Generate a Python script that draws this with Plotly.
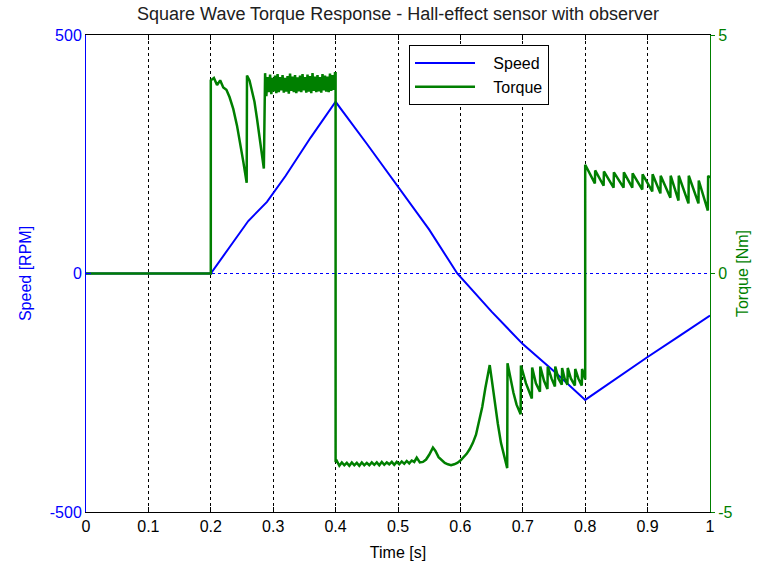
import plotly.graph_objects as go

# ---------------- data ----------------
speed_time = [0.0, 0.2, 0.23, 0.26, 0.29, 0.32, 0.36, 0.4, 0.45, 0.5, 0.55, 0.595,
              0.63, 0.65, 0.7, 0.75, 0.8, 0.85, 0.9, 0.95, 1.0]
speed_rpm = [0, 0, 55, 110, 150, 205, 285, 360, 272, 183, 92, 0,
             -52, -80, -148, -205, -265, -220, -175, -132, -88]

# torque: start-up and first two dips
torque_start_time = [0.0, 0.2, 0.2, 0.205, 0.21, 0.215, 0.22, 0.225, 0.23, 0.236, 0.242,
                     0.247, 0.252, 0.2575, 0.258, 0.262, 0.266, 0.27, 0.274, 0.278,
                     0.282, 0.285]
torque_start_nm = [0.0, 0.0, 4.05, 4.1, 3.95, 4.05, 3.9, 3.85, 3.7, 3.45, 3.1,
                   2.75, 2.35, 1.9, 4.15, 4.05, 3.85, 3.6, 3.25, 2.85,
                   2.45, 2.2]

# torque: dense ripple band at +4 Nm
torque_pos_ripple_time = [
    0.287, 0.289, 0.291, 0.293, 0.295, 0.297, 0.299, 0.301, 0.303, 0.305,
    0.307, 0.309, 0.311, 0.313, 0.315, 0.317, 0.319, 0.321, 0.323, 0.325,
    0.327, 0.329, 0.331, 0.333, 0.335, 0.337, 0.339, 0.341, 0.343, 0.345,
    0.347, 0.349, 0.351, 0.353, 0.355, 0.357, 0.359, 0.361, 0.363, 0.365,
    0.367, 0.369, 0.371, 0.373, 0.375, 0.377, 0.379, 0.381, 0.383, 0.385,
    0.387, 0.389, 0.391, 0.393, 0.395, 0.397, 0.399, 0.4]
torque_pos_ripple_nm = [
    4.2, 3.72, 4.12, 3.8, 4.17, 3.76, 4.1, 3.82, 4.15, 3.78,
    4.18, 3.8, 4.12, 3.84, 4.16, 3.79, 4.1, 3.81, 4.14, 3.77,
    4.19, 3.83, 4.13, 3.8, 4.16, 3.78, 4.11, 3.82, 4.15, 3.8,
    4.18, 3.84, 4.12, 3.79, 4.17, 3.81, 4.14, 3.78, 4.2, 3.83,
    4.13, 3.8, 4.16, 3.82, 4.12, 3.79, 4.18, 3.84, 4.15, 3.81,
    4.13, 3.8, 4.19, 3.83, 4.16, 3.85, 4.2, 4.2]

# torque: -4 Nm plateau, bumps and the large spikes
torque_neg_time = [
    0.4, 0.402, 0.406, 0.41, 0.414, 0.418, 0.422, 0.426, 0.43, 0.434, 0.438,
    0.442, 0.446, 0.45, 0.454, 0.458, 0.462, 0.466, 0.47, 0.474, 0.478,
    0.482, 0.486, 0.49, 0.494, 0.498, 0.502, 0.506, 0.51, 0.514, 0.518,
    0.522, 0.526, 0.53, 0.535, 0.54, 0.545, 0.55, 0.556, 0.56, 0.565,
    0.57, 0.575, 0.58, 0.585, 0.59, 0.595, 0.6, 0.605, 0.61, 0.615,
    0.62, 0.625, 0.63, 0.635, 0.64, 0.645, 0.647, 0.65, 0.655, 0.66,
    0.665, 0.67, 0.675]
torque_neg_nm = [
    -3.95, -3.93, -4.03, -3.96, -4.02, -3.97, -4.03, -3.96, -4.02, -3.97, -4.03,
    -3.96, -4.02, -3.97, -4.02, -3.96, -4.01, -3.96, -4.02, -3.95, -4.01,
    -3.96, -4.0, -3.95, -4.01, -3.95, -4.0, -3.94, -3.99, -3.93, -3.98,
    -3.92, -3.95, -3.86, -3.96, -3.95, -3.9, -3.8, -3.65, -3.72, -3.85,
    -3.92, -3.97, -4.0, -4.02, -4.0, -3.97, -3.92, -3.85, -3.78, -3.68,
    -3.55, -3.38, -3.1, -2.8, -2.4, -2.05, -1.92, -2.2, -2.7, -3.15,
    -3.55, -3.85, -4.08]

# torque: sawtooth ripple around -2 Nm
torque_neg_ripple_time = [
    0.6755, 0.68, 0.685, 0.69, 0.6965,
    0.697, 0.705, 0.7145,
    0.715, 0.721, 0.7275,
    0.728, 0.734, 0.7395,
    0.740, 0.746, 0.7515,
    0.752, 0.757, 0.7625,
    0.763, 0.767, 0.7715,
    0.772, 0.777, 0.7835,
    0.784, 0.789, 0.7945,
    0.795, 0.7995, 0.8]
torque_neg_ripple_nm = [
    -1.88, -2.2, -2.5, -2.75, -2.95,
    -1.93, -2.3, -2.62,
    -1.97, -2.3, -2.48,
    -1.95, -2.25, -2.42,
    -1.95, -2.2, -2.37,
    -1.95, -2.2, -2.33,
    -1.98, -2.2, -2.33,
    -1.98, -2.2, -2.35,
    -2.0, -2.2, -2.35,
    -2.0, -2.2, -2.22]

# torque: sawtooth ripple around +2 Nm
torque_end_time = [
    0.8, 0.8155, 0.816, 0.8295, 0.830, 0.8455, 0.846, 0.8615, 0.862, 0.8755,
    0.876, 0.8915, 0.892, 0.9075, 0.908, 0.9205, 0.921, 0.9365, 0.937, 0.9495,
    0.950, 0.9655, 0.966, 0.9815, 0.982, 0.9965, 0.997, 1.0]
torque_end_nm = [
    2.28, 1.89, 2.16, 1.84, 2.14, 1.8, 2.12, 1.8, 2.12, 1.8,
    2.1, 1.76, 2.08, 1.72, 2.08, 1.68, 2.05, 1.59, 2.05, 1.53,
    2.05, 1.47, 2.05, 1.47, 1.95, 1.32, 2.05, 2.0]

zero_line_time = [0.0, 1.0]
zero_line_rpm = [0, 0]

x_ticks = [0, 0.1, 0.2, 0.3, 0.4, 0.5, 0.6, 0.7, 0.8, 0.9, 1.0]
x_tick_text = ["0", "0.1", "0.2", "0.3", "0.4", "0.5", "0.6", "0.7", "0.8", "0.9", "1"]
speed_ticks = [-500, 0, 500]
speed_tick_text = ["-500", "0", "500"]
torque_ticks = [-5, 0, 5]
torque_tick_text = ["-5", "0", "5"]

torque_time = (torque_start_time + torque_pos_ripple_time + torque_neg_time
               + torque_neg_ripple_time + torque_end_time)
torque_nm = (torque_start_nm + torque_pos_ripple_nm + torque_neg_nm
             + torque_neg_ripple_nm + torque_end_nm)

# ---------------- figure ----------------
BLUE = "#0000FF"
GREEN = "#007F00"
FONT = "Liberation Sans, Arial, sans-serif"
PAD = "\u00a0" * 3

fig = go.Figure()
fig.add_trace(go.Scatter(x=zero_line_time, y=zero_line_rpm, mode="lines",
                         line=dict(color=BLUE, width=1, dash="3px,3px"),
                         showlegend=False, hoverinfo="skip", yaxis="y"))
fig.add_trace(go.Scatter(x=speed_time, y=speed_rpm, mode="lines", name=PAD + "Speed",
                         line=dict(color=BLUE, width=2), yaxis="y"))
fig.add_trace(go.Scatter(x=torque_time, y=torque_nm, mode="lines", name=PAD + "Torque",
                         line=dict(color=GREEN, width=2.5), yaxis="y2"))

fig.update_layout(
    width=758, height=567,
    margin=dict(l=86, r=48, t=35, b=55, autoexpand=False),
    paper_bgcolor="white", plot_bgcolor="white",
    font=dict(family=FONT, size=16, color="black"),
    title=dict(text="Square Wave Torque Response - Hall-effect sensor with observer",
               x=0.5, xref="paper", y=1 - 14 / 567, yref="container",
               xanchor="center", yanchor="middle",
               font=dict(family=FONT, size=18, color="#202020")),
    xaxis=dict(range=[0, 1], tickvals=x_ticks, ticktext=x_tick_text,
               ticks="inside", ticklen=5, tickcolor="black", tickwidth=1,
               showline=True, linecolor="black", linewidth=1, mirror="ticks",
               showgrid=True, gridcolor="black", gridwidth=1, griddash="3px,3px",
               zeroline=False, tickfont=dict(size=16, color="black"),
               title=dict(text="Time [s]", standoff=12, font=dict(size=16)),
               automargin=False),
    yaxis=dict(range=[-500, 500], tickvals=speed_ticks, ticktext=speed_tick_text,
               ticks="inside", ticklen=5,
               tickcolor=BLUE, showline=True, linecolor=BLUE, linewidth=1,
               showgrid=False, zeroline=False,
               tickfont=dict(size=16, color=BLUE),
               title=dict(text="Speed [RPM]", standoff=14, font=dict(size=16, color=BLUE)),
               automargin=False),
    yaxis2=dict(range=[-5, 5], tickvals=torque_ticks, ticktext=torque_tick_text,
                overlaying="y", side="right",
                ticks="outside", ticklen=4, tickcolor=GREEN,
                showline=True, linecolor=GREEN, linewidth=1,
                showgrid=False, zeroline=False,
                tickfont=dict(size=16, color=GREEN),
                title=dict(text="Torque [Nm]", standoff=5, font=dict(size=16, color=GREEN)),
                automargin=False),
    legend=dict(x=(409 - 86) / 624, y=(512 - 45) / 477, xanchor="left", yanchor="top",
                bgcolor="white", bordercolor="black", borderwidth=1,
                font=dict(size=16, color="black"), tracegroupgap=2, itemwidth=60),
)

fig.write_html("out.html", config={"displayModeBar": False},
               post_script="document.body.style.margin='0';")
